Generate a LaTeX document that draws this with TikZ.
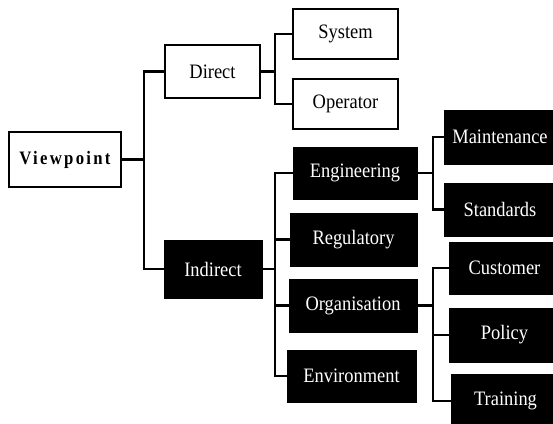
\documentclass[tikz,border=0pt]{standalone}
\usepackage{fontspec}
\setmainfont{Liberation Serif}[FakeStretch=0.9]
\newfontfamily\vpfont{Liberation Serif}[FakeStretch=0.88,LetterSpace=12]
\tikzset{
  wbox/.style={draw=black,line width=2.4pt,fill=white,text=black,inner sep=0pt,
    font=\fontsize{20.5}{24}\selectfont},
  bbox/.style={draw=black,line width=1pt,fill=black,text=white,inner sep=0pt,
    font=\fontsize{20.5}{24}\selectfont},
  link/.style={line width=2.4pt}
}

\begin{document}
\begin{tikzpicture}[x=1pt,y=-1pt]
\useasboundingbox[fill=white] (0,0) rectangle (553,423);
% root and first level
\node[wbox,minimum width=112pt,minimum height=55pt,font=\vpfont\fontsize{19}{22}\selectfont\bfseries] (vp) at (65,159.5) {Viewpoint};
\node[wbox,minimum width=95pt,minimum height=53pt] (direct) at (212.5,71.5) {Direct};
\node[bbox,minimum width=98pt,minimum height=58pt] (indirect) at (213,269) {Indirect};
% direct
\node[wbox,minimum width=105pt,minimum height=50pt] (system) at (345.5,34) {System};
\node[wbox,minimum width=105pt,minimum height=50pt] (operator) at (345.5,104) {Operator};
% indirect
\node[bbox,minimum width=124pt,minimum height=52pt] (eng) at (355,173) {Engineering};
\node[bbox,minimum width=127pt,minimum height=53pt] (reg) at (353.5,239.5) {Regulatory};
\node[bbox,minimum width=128pt,minimum height=53pt] (org) at (353,305.5) {Organisation};
\node[bbox,minimum width=129pt,minimum height=52pt] (env) at (351.5,376) {Environment};
% engineering
\node[bbox,minimum width=112pt,minimum height=54pt] (maint) at (500,137) {Maintenance};
\node[bbox,minimum width=112pt,minimum height=53pt] (stand) at (500,209.5) {Standards};
% organisation
\node[bbox,minimum width=111pt,minimum height=52pt] (cust) at (504.5,268) {Customer};
\node[bbox,minimum width=111pt,minimum height=54pt] (policy) at (504.5,335) {Policy};
\node[bbox,minimum width=109pt,minimum height=53pt] (train) at (505.5,401) {Training};
% junctions
\coordinate (j1) at (144,159.5);
\coordinate (j2) at (275,71.5);
\coordinate (j3) at (275,269);
\coordinate (j4) at (433,173);
\coordinate (j5) at (433,305.5);
\draw[link] (vp.east) -- (j1);
\draw[link] (direct.west) -| (j1) |- (indirect.west);
\draw[link] (direct.east) -- (j2);
\draw[link] (system.west) -| (j2) |- (operator.west);
\draw[link] (indirect.east) -- (j3);
\draw[link] (eng.west) -| (j3) |- (env.west);
\draw[link] (reg.west) -- (reg.west -| j3);
\draw[link] (org.west) -- (org.west -| j3);
\draw[link] (eng.east) -- (j4);
\draw[link] (maint.west) -| (j4) |- (stand.west);
\draw[link] (org.east) -- (j5);
\draw[link] (cust.west) -| (j5) |- (train.west);
\draw[link] (policy.west) -- (policy.west -| j5);
\end{tikzpicture}
\end{document}
